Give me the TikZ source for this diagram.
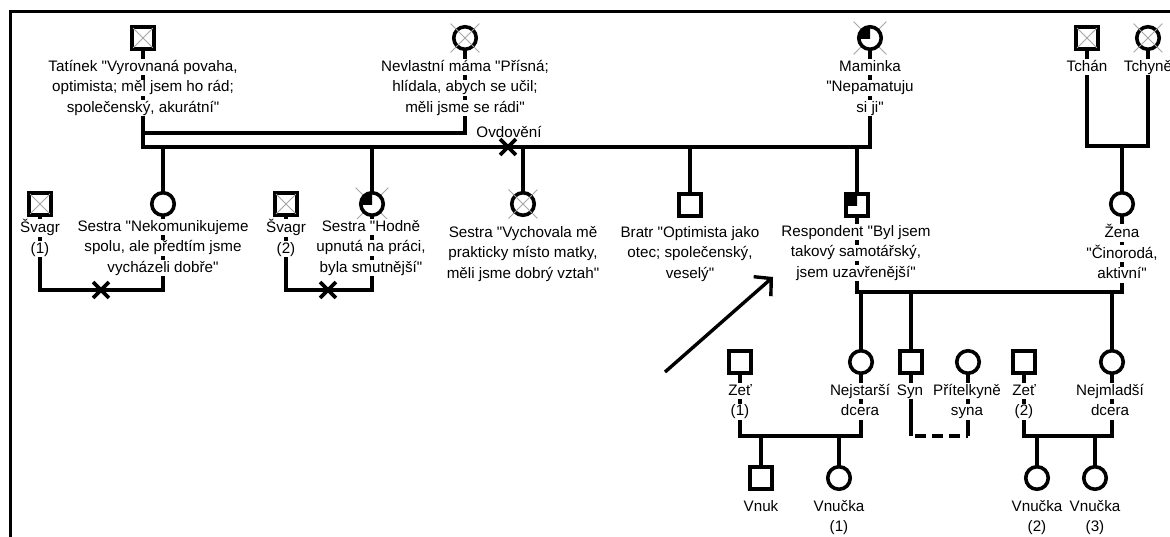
\documentclass[tikz,border=0pt]{standalone}
\usepackage{fontspec}
\setmainfont{Liberation Sans}[Ligatures=TeXOff]
\usetikzlibrary{arrows.meta,backgrounds,shapes.misc}
% one label line on a white band, so connectors show only between lines
\newcommand\wb[1]{{\setlength\fboxsep{0pt}\colorbox{white}{\rule[-4pt]{0pt}{16pt}#1}}}
\tikzset{
  sym/.style={draw=black, line width=3.6pt, fill=white, inner sep=0pt, outer sep=0pt},
  male/.style={sym, rectangle, minimum size=21.5pt},
  female/.style={sym, circle, minimum size=22.5pt},
  lbl/.style={inner sep=0pt, outer sep=0pt, align=center, anchor=north,
              font=\fontsize{15.2}{20.5}\selectfont},
  conn/.style={line width=3.6pt},
  goneSq/.style={draw=gray!70, line width=0.8pt, cross out, minimum size=19pt, inner sep=0pt},
  goneCi/.style={draw=gray!70, line width=0.8pt, cross out, minimum size=28pt, inner sep=0pt},
  cut/.style={draw=black, line width=3.8pt, cross out, minimum size=12pt, inner sep=0pt},
}
\begin{document}
\begin{tikzpicture}[x=1pt,y=-1pt]
\useasboundingbox (0,0) rectangle (1170,536);

% frame
\draw[line width=3pt] (10,545) -- (10,11) -- (1180,11);

% ---------- generation 1 ----------
\node[male]   (tat)    at (143,38) {};
\node[female] (nev)    at (465,38) {};
\node[female] (mam)    at (870,38) {};
\node[male]   (tchan)  at (1087,38) {};
\node[female] (tchyne) at (1148,38) {};

\node[lbl] (tatL) at (143,59.4) {\wb{Tatínek "Vyrovnaná povaha,}\\\wb{optimista; měl jsem ho rád;}\\\wb{společenský, akurátní"}};
\node[lbl] (nevL) at (465,59.4) {\wb{Nevlastní máma "Přísná;}\\\wb{hlídala, abych se učil;}\\\wb{měli jsme se rádi"}};
\node[lbl] (mamL) at (870,59.4) {\wb{Maminka}\\\wb{"Nepamatuju}\\\wb{si ji"}};
\node[lbl] (tchanL) at (1087,59.4) {\wb{Tchán}};
\node[lbl] (tchyneL) at (1148,59.4) {\wb{Tchyně}};

% ---------- generation 2 ----------
\node[male]   (sv1)   at (40,204) {};
\node[female] (snek)  at (163,204) {};
\node[male]   (sv2)   at (286,204) {};
\node[female] (shod)  at (372,204) {};
\node[female] (svych) at (523,204) {};
\node[male]   (bratr) at (690,205) {};
\node[male]   (resp)  at (857,205) {};
\node[female] (zena)  at (1122,204) {};

\node[lbl] (sv1L)   at (40,219.4)  {\wb{Švagr}\\\wb{(1)}};
\node[lbl] (snekL)  at (163,219.4) {\wb{Sestra "Nekomunikujeme}\\\wb{spolu, ale předtím jsme}\\\wb{vycházeli dobře"}};
\node[lbl] (sv2L)   at (286,219.4) {\wb{Švagr}\\\wb{(2)}};
\node[lbl] (shodL)  at (371,219.4) {\wb{Sestra "Hodně}\\\wb{upnutá na práci,}\\\wb{byla smutnější"}};
\node[lbl] (svychL) at (523,225.4) {\wb{Sestra "Vychovala mě}\\\wb{prakticky místo matky,}\\\wb{měli jsme dobrý vztah"}};
\node[lbl] (bratrL) at (690,225.4) {\wb{Bratr "Optimista jako}\\\wb{otec; společenský,}\\\wb{veselý"}};
\node[lbl] (respL)  at (856,224.4) {\wb{Respondent "Byl jsem}\\\wb{takový samotářský,}\\\wb{jsem uzavřenější"}};
\node[lbl] (zenaL)  at (1122,224.4) {\wb{Žena}\\\wb{"Činorodá,}\\\wb{aktivní"}};

% ---------- generation 3 ----------
\node[male]   (zet1)   at (740,362) {};
\node[female] (nejst)  at (861,362) {};
\node[male]   (syn)    at (911,362) {};
\node[female] (pritel) at (968,362) {};
\node[male]   (zet2)   at (1024,362) {};
\node[female] (nejml)  at (1112,362) {};

\node[lbl] (zet1L)   at (740,383.4)  {\wb{Zeť}\\\wb{(1)}};
\node[lbl] (nejstL)  at (860,383.4)  {\wb{Nejstarší}\\\wb{dcera}};
\node[lbl] (synL)    at (910,383.4)  {\wb{Syn}};
\node[lbl] (pritelL) at (967,383.4)  {\wb{Přítelkyně}\\\wb{syna}};
\node[lbl] (zet2L)   at (1024,383.4) {\wb{Zeť}\\\wb{(2)}};
\node[lbl] (nejmlL)  at (1110,383.4) {\wb{Nejmladší}\\\wb{dcera}};

% ---------- generation 4 ----------
\node[male]   (vnuk) at (761,478) {};
\node[female] (vn1)  at (839,478) {};
\node[female] (vn2)  at (1037,478) {};
\node[female] (vn3)  at (1095,478) {};

\node[lbl] (vnukL) at (761,499.4)  {\wb{Vnuk}};
\node[lbl] (vn1L)  at (839,499.4)  {\wb{Vnučka}\\\wb{(1)}};
\node[lbl] (vn2L)  at (1037,499.4) {\wb{Vnučka}\\\wb{(2)}};
\node[lbl] (vn3L)  at (1095,499.4) {\wb{Vnučka}\\\wb{(3)}};

% affected quarters
\foreach \p in {mam,shod}{
  \begin{scope}
    \clip (\p.center) rectangle ++(-14,-14);
    \fill (\p.center) circle[radius=11.25pt];
  \end{scope}
}
\begin{scope}
  \clip (resp.center) rectangle ++(-12,-12);
  \fill (resp.north west) rectangle (resp.south east);
\end{scope}

% deceased marks
\foreach \p in {tat,tchan,sv1,sv2}{ \node[goneSq] at (\p.center) {}; }
\foreach \p in {nev,tchyne,svych}{ \node[goneCi] at (\p.center) {}; }

% separation marks on relationship lines
\node[cut] (wid)  at (508,147) {};
\node[cut] (div1) at (101,290) {};
\node[cut] (div2) at (328,290) {};
\node[inner sep=0pt, font=\fontsize{15.2}{18}\selectfont] (ovd) at (509,132) {Ovdovění};

% pointer to the respondent
\coordinate (arT) at (665,372);
\coordinate (arH) at (773,277);
\draw[line width=3.4pt, -{Straight Barb[length=12pt,width=26pt,line width=3.4pt]}] (arT) -- (arH);

% ---------- connectors ----------
\begin{pgfonlayer}{background}
  \foreach \p in {mam,shod}{ \node[goneCi, minimum size=32pt] at (\p.center) {}; }
  % parents
  \draw[conn] (tat.south) |- (mam.south |- 0,147) -- (mam.south);
  \draw[conn] (tat.south |- 0,133) -| (nev.south);
  \draw[conn] (tchan.south) |- (tchyne.south |- 0,146) -- (tchyne.south);
  \foreach \c in {snek,shod,svych,bratr,resp}{ \draw[conn] (\c.north) -- (\c.north |- 0,147); }
  \draw[conn] (zena.north) -- (zena.north |- 0,146);
  % siblings' couples
  \draw[conn] (sv1.south) |- (snek.south |- 0,290) -- (snek.south);
  \draw[conn] (sv2.south) |- (shod.south |- 0,290) -- (shod.south);
  \draw[conn] (resp.south) |- (zena.south |- 0,292) -- (zena.south);
  \foreach \c in {nejst,syn,nejml}{ \draw[conn] (\c.north) -- (\c.north |- 0,292); }
  % children's couples
  \draw[conn] (zet1.south) |- (nejst.south |- 0,436) -- (nejst.south);
  \draw[conn] (zet2.south) |- (nejml.south |- 0,436) -- (nejml.south);
  \draw[conn] (syn.south) -- (syn.south |- 0,436);
  \draw[conn] (pritel.south) -- (pritel.south |- 0,436);
  \draw[conn, dash pattern=on 11pt off 6pt, dash phase=-4pt] (syn.south |- 0,436) -- (pritel.south |- 0,436);
  \foreach \c in {vnuk,vn1}{ \draw[conn] (\c.north) -- (\c.north |- 0,436); }
  \foreach \c in {vn2,vn3}{ \draw[conn] (\c.north) -- (\c.north |- 0,436); }
\end{pgfonlayer}
\end{tikzpicture}
\end{document}
